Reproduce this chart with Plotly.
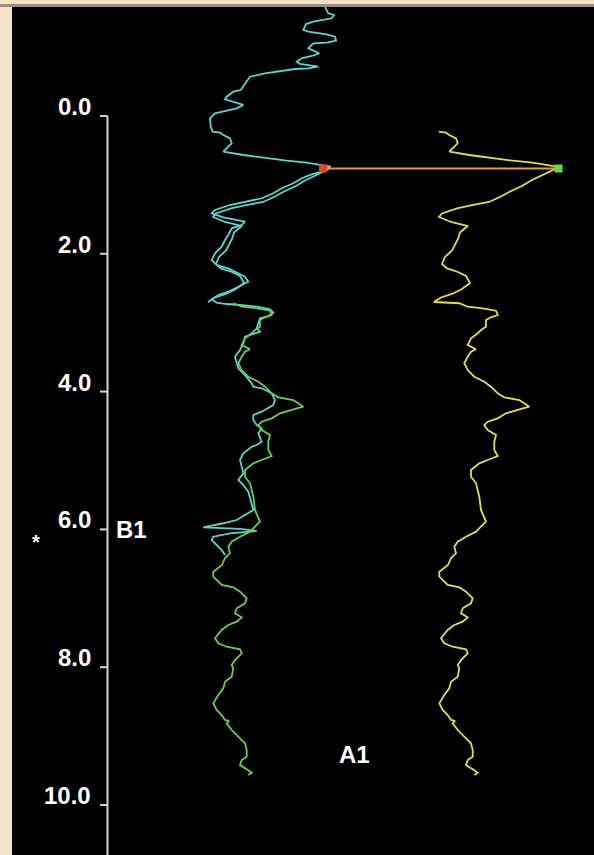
import plotly.graph_objects as go

# ---------------------------------------------------------------------------
# Log data (depth in km, curve value in track units)
# ---------------------------------------------------------------------------
B1_DEPTH = [-1.58, -1.49, -1.466, -1.418, -1.369, -1.335, -1.248, -1.224, -1.186, -1.151,
            -1.093, -1.064, -1.055, -0.983, -0.948, -0.910, -0.871, -0.837, -0.788, -0.755,
            -0.716, -0.692, -0.682, -0.653, -0.620, -0.570, -0.522, -0.450, -0.377, -0.353,
            -0.280, -0.242, -0.208, -0.160, -0.112, -0.077, -0.039, 0.033, 0.155, 0.228,
            0.242, 0.276, 0.324, 0.396, 0.469, 0.518, 0.566, 0.605, 0.649, 0.678,
            0.711, 0.736, 0.808, 0.846, 0.904, 0.977, 1.049, 1.122, 1.194, 1.244,
            1.292, 1.364, 1.412, 1.470, 1.509, 1.534, 1.582, 1.630, 1.727, 1.800,
            1.897, 1.993, 2.090, 2.163, 2.211, 2.260, 2.332, 2.405, 2.478, 2.550,
            2.598, 2.660, 2.710, 2.729, 2.743, 2.768, 2.806, 2.855, 2.903, 2.936,
            3.009, 3.081, 3.131, 3.203, 3.299, 3.396, 3.493, 3.566, 3.662, 3.759,
            3.880, 3.929, 3.952, 4.025, 4.122, 4.195, 4.242, 4.292, 4.340, 4.412,
            4.485, 4.533, 4.605, 4.727, 4.775, 4.800, 4.896, 4.993, 5.090, 5.186,
            5.283, 5.356, 5.453, 5.549, 5.621, 5.718, 5.791, 5.864, 5.911, 5.972,
            5.994, 6.023, 6.057, 6.106, 6.154, 6.226, 6.299, 6.372]
B1_VALUE = [313.0, 316.3, 322.0, 319.7, 301.3, 294.0, 291.3, 296.3, 314.7, 323.0,
            324.0, 314.7, 301.3, 296.3, 301.3, 307.3, 299.7, 289.7, 284.7, 288.0,
            306.3, 296.3, 283.0, 268.0, 253.0, 238.0, 235.7, 233.0, 228.7, 221.3,
            214.7, 213.0, 221.3, 231.3, 224.7, 213.0, 203.0, 198.0, 198.7, 200.7,
            208.0, 211.3, 218.0, 219.7, 214.7, 211.3, 231.3, 251.3, 274.7, 294.7,
            308.0, 318.7, 309.7, 299.7, 289.7, 281.3, 269.7, 261.3, 249.7, 233.0,
            218.0, 203.0, 199.7, 211.3, 223.0, 233.0, 229.7, 219.7, 216.3, 213.0,
            209.7, 203.0, 199.7, 204.7, 216.3, 223.0, 233.0, 236.3, 226.3, 216.3,
            206.3, 199.7, 204.7, 214.7, 228.0, 244.7, 258.0, 261.3, 256.3, 248.0,
            246.3, 244.7, 248.0, 233.0, 231.3, 228.0, 223.0, 224.7, 226.3, 233.0,
            239.7, 241.3, 249.7, 259.7, 263.0, 261.3, 256.3, 249.7, 241.3, 241.3,
            244.7, 249.7, 246.3, 249.7, 244.7, 239.7, 231.3, 228.0, 229.7, 231.3,
            226.3, 231.3, 236.3, 238.0, 239.7, 241.3, 233.0, 224.7, 211.3, 191.3,
            228.0, 244.7, 218.0, 201.3, 199.7, 204.7, 209.7, 213.0]

# B1 interval after depth shift (drawn alongside the original)
B1_SHIFT_DEPTH = [0.769, 0.849, 0.936, 1.016, 1.096, 1.168, 1.248, 1.292, 1.342, 1.415,
                  1.466, 1.538, 1.575, 1.597, 1.640, 1.691, 1.785, 1.858, 1.952, 2.046,
                  2.148, 2.213, 2.264, 2.322, 2.424, 2.511, 2.583, 2.634, 2.700]
B1_SHIFT_VALUE = [317.0, 306.0, 293.0, 284.0, 272.0, 263.0, 251.0, 234.0, 219.0, 204.0,
                  201.0, 213.0, 224.0, 230.0, 226.0, 222.0, 220.0, 217.0, 214.0, 207.0,
                  204.0, 209.0, 220.0, 228.0, 232.0, 224.0, 214.0, 203.0, 196.0]

A1_DEPTH = [2.718, 2.768, 2.791, 2.826, 2.888, 2.922, 2.961, 3.058, 3.106, 3.154,
            3.226, 3.324, 3.386, 3.421, 3.493, 3.589, 3.687, 3.784, 3.856, 3.929,
            4.025, 4.083, 4.122, 4.219, 4.267, 4.315, 4.388, 4.437, 4.485, 4.557,
            4.630, 4.727, 4.848, 4.935, 4.993, 5.041, 5.138, 5.235, 5.331, 5.428,
            5.525, 5.718, 5.816, 5.888, 5.961, 6.033, 6.106, 6.179, 6.251, 6.347,
            6.415, 6.517, 6.614, 6.686, 6.807, 6.840, 6.904, 7.000, 7.073, 7.145,
            7.218, 7.276, 7.340, 7.388, 7.460, 7.581, 7.653, 7.703, 7.740, 7.798,
            7.896, 7.968, 8.016, 8.138, 8.211, 8.306, 8.404, 8.524, 8.621, 8.694,
            8.766, 8.780, 8.814, 8.912, 9.032, 9.105, 9.202, 9.299, 9.347, 9.420,
            9.482, 9.531, 9.565]
A1_VALUE = [221.3, 229.7, 244.7, 258.0, 259.7, 253.0, 248.0, 248.0, 243.0, 239.7,
            233.0, 229.7, 238.0, 233.0, 229.7, 226.3, 229.7, 236.3, 246.3, 253.0,
            259.7, 266.3, 281.3, 291.3, 279.7, 268.0, 259.7, 249.7, 246.3, 249.7,
            258.0, 256.3, 256.3, 259.7, 249.7, 241.3, 233.0, 233.0, 238.0, 239.7,
            241.3, 243.0, 246.3, 248.0, 243.0, 238.0, 228.0, 219.7, 216.3, 218.0,
            213.0, 210.0, 201.3, 201.3, 209.7, 221.3, 228.0, 234.7, 233.0, 224.7,
            223.0, 229.7, 224.7, 216.3, 209.7, 203.0, 206.3, 214.7, 228.0, 229.7,
            223.0, 219.7, 221.3, 219.7, 213.0, 211.3, 206.3, 201.3, 204.7, 209.7,
            213.0, 217.0, 214.7, 219.7, 228.0, 233.0, 234.7, 234.7, 229.7, 228.0,
            234.7, 239.7, 236.3]

# Composite: B1 from its top pick, shifted B1 interval, then A1 below the splice
COMPOSITE_TOP = 0.2
SPLICE_TOP = 0.74
SPLICE_BASE = 2.70

# Correlation pick linking B1 to the composite
PICK_DEPTH = 0.762
PICK_B1 = 311.0
PICK_COMPOSITE = 320.5

DEPTH_TICKS = [0, 2, 4, 6, 8, 10]
DEPTH_LABELS = ["0.0", "2.0", "4.0", "6.0", "8.0", "10.0"]

# ---------------------------------------------------------------------------
# Styling / layout constants
# ---------------------------------------------------------------------------
W, H = 594, 855
LEFT, TOP = 12, 7
X_RANGE = [0, W - LEFT]
Y_TOP = -1.582
Y_BOTTOM = 10.726
AXIS_X = 95.5
TICK_LEN = 7.5
LABEL_X = 81
COMPOSITE_OFFSET = 226.0

CYAN = "#5fd3cf"
GREEN = "#68d04a"
YELLOW = "#e4dc52"
ORANGE = "#e39a3c"
BEIGE = "#f3e3c8"
FONT = "Liberation Sans"

comp_d, comp_v = [], []
for d, v in zip(B1_DEPTH, B1_VALUE):
    if COMPOSITE_TOP <= d <= SPLICE_TOP:
        comp_d.append(d)
        comp_v.append(v)
for d, v in zip(B1_SHIFT_DEPTH, B1_SHIFT_VALUE):
    if d <= SPLICE_BASE:
        comp_d.append(d)
        comp_v.append(v)
for d, v in zip(A1_DEPTH, A1_VALUE):
    if d > SPLICE_BASE:
        comp_d.append(d)
        comp_v.append(v)

fig = go.Figure()

# depth axis line and ticks
ax_x, ax_y = [AXIS_X, AXIS_X, None], [0, Y_BOTTOM, None]
for t in DEPTH_TICKS:
    ax_x += [AXIS_X - TICK_LEN, AXIS_X, None]
    ax_y += [t, t, None]
fig.add_trace(go.Scatter(x=ax_x, y=ax_y, mode="lines",
                         line=dict(color="#d6d6d6", width=2), hoverinfo="skip"))

# B1 curves
fig.add_trace(go.Scatter(x=B1_VALUE, y=B1_DEPTH, mode="lines",
                         line=dict(color=CYAN, width=1.8), name="B1"))
fig.add_trace(go.Scatter(x=B1_SHIFT_VALUE, y=B1_SHIFT_DEPTH, mode="lines",
                         line=dict(color=CYAN, width=1.8), name="B1 shifted"))
# A1 curve
fig.add_trace(go.Scatter(x=A1_VALUE, y=A1_DEPTH, mode="lines",
                         line=dict(color=GREEN, width=1.8), name="A1"))
# composite in right track
fig.add_trace(go.Scatter(x=[v + COMPOSITE_OFFSET for v in comp_v], y=comp_d, mode="lines",
                         line=dict(color=YELLOW, width=1.8), name="Composite"))

# correlation line with end picks
pick_right = PICK_COMPOSITE + COMPOSITE_OFFSET
fig.add_trace(go.Scatter(x=[PICK_B1, pick_right], y=[PICK_DEPTH, PICK_DEPTH], mode="lines",
                         line=dict(color=ORANGE, width=2)))
fig.add_trace(go.Scatter(x=[PICK_B1], y=[PICK_DEPTH], mode="markers",
                         marker=dict(symbol="square", size=8, color="#e8441c",
                                     line=dict(width=0))))
fig.add_trace(go.Scatter(x=[pick_right], y=[PICK_DEPTH], mode="markers",
                         marker=dict(symbol="square", size=8, color="#62d84a",
                                     line=dict(width=0))))

annotations = []
for t, lab in zip(DEPTH_TICKS, DEPTH_LABELS):
    annotations.append(dict(x=LABEL_X, y=t, text=lab, showarrow=False,
                            xanchor="right", yanchor="bottom", yshift=-6,
                            font=dict(family=FONT, size=24, color="#ffffff", weight="bold")))
annotations.append(dict(x=AXIS_X + 6, y=6.0, text="B1", showarrow=False,
                        xanchor="left", yanchor="bottom", yshift=-16,
                        font=dict(family=FONT, size=24, color="#ffffff", weight="bold")))
annotations.append(dict(x=354 - LEFT, y=9.27, text="A1", showarrow=False,
                        xanchor="center", yanchor="middle",
                        font=dict(family=FONT, size=24, color="#ffffff", weight="bold")))
annotations.append(dict(x=36 - LEFT, y=6.13, text="*", showarrow=False,
                        xanchor="center", yanchor="middle", yshift=-4,
                        font=dict(family=FONT, size=20, color="#ffffff", weight="bold")))

fig.update_layout(
    width=W, height=H, autosize=False,
    margin=dict(l=LEFT, r=0, t=TOP, b=0, pad=0),
    paper_bgcolor=BEIGE, plot_bgcolor="#000000",
    showlegend=False,
    xaxis=dict(range=X_RANGE, visible=False, fixedrange=True),
    yaxis=dict(range=[Y_BOTTOM, Y_TOP], visible=False, fixedrange=True),
    annotations=annotations,
    shapes=[dict(type="rect", xref="paper", yref="paper",
                 x0=-LEFT / (W - LEFT), x1=1, y0=1, y1=1 + 3 / (H - TOP),
                 fillcolor="#9c8f80", line=dict(width=0), layer="above")],
)

fig.write_html("out.html")
